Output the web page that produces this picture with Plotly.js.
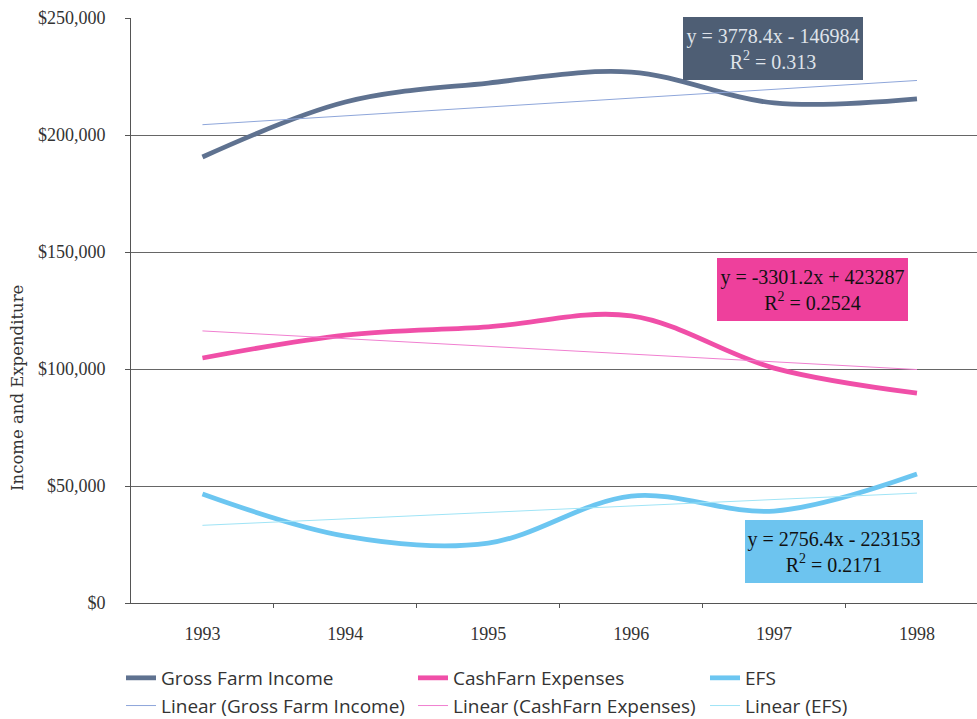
<!DOCTYPE html>
<html>
<head>
<meta charset="utf-8">
<script src="https://cdn.plot.ly/plotly-3.0.1.min.js"></script>
<style>
  html, body { margin: 0; padding: 0; background: #fff; }
  #chart { width: 977px; height: 719px; }
</style>
</head>
<body>
<div id="chart"></div>
<script>
// Farm income and expenditure, 1993-1998
const years = [1993, 1994, 1995, 1996, 1997, 1998];
const grossFarmIncome = [190600, 214100, 222200, 226900, 213700, 215400];
const cashFarmExpenses = [104700, 114500, 118000, 122700, 100400, 89700];
const efs = [46600, 28600, 25600, 45700, 39300, 55100];

// Linear trend equations (x = year - 1900) and their R² values
const seriesNames = ['Gross Farm Income', 'CashFarn Expenses', 'EFS'];
const trendSlopes = [3778.4, -3301.2, 2756.4];
const trendIntercepts = [-146984, 423287, -223153];
const trendR2 = ['0.313', '0.2524', '0.2171'];

const serif = 'Liberation Serif, Times New Roman, serif';
const lineColors = ['#5f7290', '#f04fa8', '#6cc6f1'];
const trendColors = ['#8ea6da', '#f07fd0', '#9fe4f6'];
const boxColors = ['#4e5e74', '#ee409c', '#6dc4ef'];
const boxText = ['#dfe3ea', '#111111', '#111111'];

const values = [grossFarmIncome, cashFarmExpenses, efs];

const traces = [];
values.forEach((v, i) => {
  traces.push({
    x: years, y: v, name: seriesNames[i], type: 'scatter', mode: 'lines',
    line: { color: lineColors[i], width: 4.8, shape: 'spline', smoothing: 1 },
    hoverinfo: 'x+y'
  });
});
values.forEach((v, i) => {
  traces.push({
    x: years,
    y: years.map(yr => trendSlopes[i] * (yr - 1900) + trendIntercepts[i]),
    name: 'Linear (' + seriesNames[i] + ')', type: 'scatter', mode: 'lines',
    line: { color: trendColors[i], width: 1 },
    hoverinfo: 'x+y'
  });
});

function fmtEq(i) {
  const s = trendSlopes[i];
  const c = trendIntercepts[i];
  const cs = c < 0 ? ' - ' + Math.abs(c) : ' + ' + c;
  return 'y = ' + s.toFixed(1) + 'x' + cs + '<br>R<sup>2</sup> = ' + trendR2[i];
}

// Equation boxes, placed in data coordinates
const boxPos = [
  { x: 1996.99, y: 236900, w: 180 },
  { x: 1997.27, y: 133970, w: 191 },
  { x: 1997.42, y: 22010, w: 178 }
];

const annotations = boxPos.map((p, i) => ({
  xref: 'x', yref: 'y', x: p.x, y: p.y,
  xanchor: 'center', yanchor: 'middle',
  width: p.w, height: 63,
  text: fmtEq(i), showarrow: false,
  bgcolor: boxColors[i], borderpad: 0, borderwidth: 0,
  font: { family: serif, size: 20, color: boxText[i] },
  align: 'center'
}));

annotations.push({
  xref: 'paper', yref: 'paper', x: -0.1348, y: 0.3675,
  xanchor: 'center', yanchor: 'middle', textangle: -90,
  text: 'Income and Expenditure', showarrow: false,
  font: { family: 'DejaVu Serif, serif', size: 16.5, color: '#333' }
});

const layout = {
  width: 977, height: 719,
  margin: { l: 131, r: 0, t: 18, b: 116, autoexpand: false },
  paper_bgcolor: '#ffffff', plot_bgcolor: '#ffffff',
  showlegend: true,
  xaxis: {
    range: [1992.5, 1998.42],
    tickmode: 'array', tickvals: years, ticktext: years.map(String),
    showgrid: false, zeroline: false,
    showline: true, linecolor: '#555', linewidth: 1,
    ticks: '', ticklabelstandoff: 14,
    tickfont: { family: serif, size: 18, color: '#333' },
    minor: { tickmode: 'array', tickvals: years.map(y => y + 0.5), ticks: 'outside', ticklen: 4, tickcolor: '#555' }
  },
  yaxis: {
    range: [0, 250000], tickmode: 'linear', tick0: 0, dtick: 50000,
    tickformat: '$,', showgrid: true, gridcolor: '#666', gridwidth: 1,
    zeroline: false, showline: true, linecolor: '#555', linewidth: 1,
    ticks: 'outside', ticklen: 5, tickcolor: '#555', ticklabelstandoff: 16,
    tickfont: { family: serif, size: 18, color: '#333' }
  },
  legend: {
    orientation: 'h', xref: 'paper', yref: 'paper',
    x: -0.0118, y: -0.0957, xanchor: 'left', yanchor: 'top',
    entrywidth: 247, entrywidthmode: 'pixels', traceorder: 'normal',
    font: { family: 'Open Sans, sans-serif', size: 19, color: '#333' },
    itemwidth: 30, tracegroupgap: 0, bgcolor: 'rgba(0,0,0,0)'
  },
  annotations: annotations
};

Plotly.newPlot('chart', traces, layout, { displayModeBar: false, staticPlot: true });
</script>
</body>
</html>
